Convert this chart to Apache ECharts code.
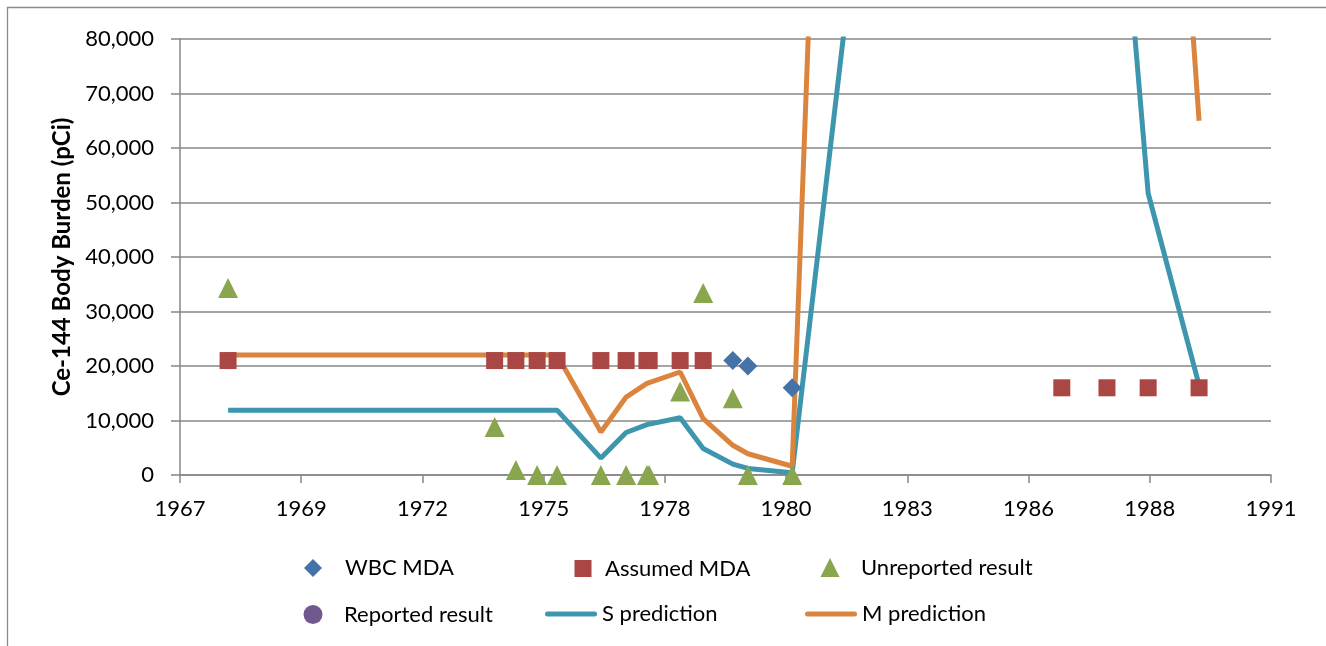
<!DOCTYPE html>
<html>
<head>
<meta charset="utf-8">
<script src="https://cdn.jsdelivr.net/npm/echarts@6/dist/echarts.min.js"></script>
<style>
html,body{margin:0;padding:0;background:#fff;}
#chart{width:1326px;height:646px;}
</style>
</head>
<body>
<div id="chart"></div>
<script>
// ---- Data (x values are decimal years) ----
const tickLabels = ['1967','1969','1972','1975','1978','1980','1983','1986','1988','1991'];

const wbcYears  = [1979.56, 1979.90, 1980.90];
const wbcValues = [21000, 20000, 16000];

const assumedYears  = [1968.16, 1974.18, 1974.66, 1975.14, 1975.59, 1976.58, 1977.15, 1977.62, 1977.67, 1978.37, 1978.89, 1986.99, 1988.01, 1988.94, 1990.09];
const assumedValues = [21000, 21000, 21000, 21000, 21000, 21000, 21000, 21000, 21000, 21000, 21000, 16000, 16000, 16000, 16000];

const unrepYears  = [1968.16, 1974.18, 1974.66, 1975.14, 1975.59, 1976.58, 1977.15, 1977.62, 1977.67, 1978.37, 1978.89, 1979.56, 1979.90, 1980.90];
const unrepValues = [34300, 8800, 900, 0, 0, 0, 0, 0, 0, 15300, 33400, 14100, 0, 0];

const reportedYears  = [];
const reportedValues = [];

const predYears = [1968.16, 1974.18, 1974.66, 1975.14, 1975.59, 1976.58, 1977.15, 1977.62, 1978.37, 1978.89, 1979.56, 1979.90, 1980.90, 1986.99, 1988.01, 1988.94, 1990.09];
const sPred = [11900, 11900, 11900, 11900, 11900, 3100, 7800, 9250, 10500, 4850, 2000, 1200, 400, 421800, 141000, 51700, 16500];
const mPred = [22000, 22000, 22000, 22000, 22000, 7900, 14300, 16800, 18900, 10350, 5450, 3900, 1600, 1324600, 550000, 199000, 65000];

// ---- Axis setup: x measured in days from the axis start (28 Jan 1967), ticks every 1000 days ----
const AXIS_START = 1967.074;
const DAYS_PER_YEAR = 365.25;
const toX = y => (y - AXIS_START) * DAYS_PER_YEAR;
const pairs = (xs, ys) => xs.map((x, i) => [toX(x), ys[i]]);

const FONT = 'Lato, "Open Sans", sans-serif';
const GRID_COLOR = '#878787';

const colors = {
  wbc: '#4572A7', assumed: '#AA4643', unrep: '#89A54E',
  reported: '#71588F', s: '#3D96AE', m: '#DB843D'
};

const ICON = {
  diamond: 'path://M0,-1L1,0L0,1L-1,0Z',
  square: 'path://M0,0H1V1H0Z',
  triangle: 'path://M0,-1L1,1H-1Z',
  circle: 'path://M-1,0A1,1,0,1,0,1,0A1,1,0,1,0,-1,0Z',
  line: 'path://M2.5,0H49.5A2.5,2.5,0,0,1,49.5,5H2.5A2.5,2.5,0,0,1,2.5,0Z'
};

function legendItem(name, icon, left, top, w, h) {
  return {
    data: [{ name: name, icon: icon }], left: left, top: top, padding: 0,
    itemWidth: w, itemHeight: h, itemGap: 0,
    selectedMode: false,
    textStyle: { fontFamily: FONT, fontSize: 22, color: '#000' }
  };
}

const chart = echarts.init(document.getElementById('chart'), null, { renderer: 'canvas' });

chart.setOption({
  animation: false,
  backgroundColor: '#fff',
  grid: { left: 180, right: 55, top: 39, bottom: 171 },
  graphic: [{
    type: 'rect', silent: true,
    shape: { x: 7.5, y: 7.5, width: 1500, height: 800 },
    style: { fill: 'none', stroke: '#8a8a8a', lineWidth: 1.3 }
  }],
  legend: [
    legendItem('WBC MDA', ICON.diamond, 304, 557, 54, 18),
    legendItem('Assumed MDA', ICON.square, 574.5, 557.5, 34, 17),
    legendItem('Unreported result', ICON.triangle, 820.5, 556.5, 52, 19),
    legendItem('Reported result', ICON.circle, 303.5, 603.5, 52, 19),
    legendItem('S prediction', ICON.line, 545, 603, 52, 20),
    legendItem('M prediction', ICON.line, 805, 603, 52, 20)
  ],
  xAxis: {
    type: 'value', min: 0, max: 9000, interval: 1000,
    axisLine: { show: true, onZero: false, lineStyle: { color: GRID_COLOR, width: 1.5 } },
    axisTick: { show: true, inside: false, length: 8, lineStyle: { color: GRID_COLOR, width: 1.5 } },
    splitLine: { show: false },
    axisLabel: {
      margin: 23, fontFamily: FONT, fontSize: 22, color: '#000',
      formatter: (v) => tickLabels[Math.round(v / 1000)] || ''
    }
  },
  yAxis: {
    type: 'value', min: 0, max: 80000, interval: 10000,
    name: 'Ce-144 Body Burden (pCi)', nameLocation: 'middle', nameRotate: 90, nameGap: 106,
    nameTextStyle: { fontFamily: FONT, fontSize: 24, fontWeight: 'bold', color: '#000' },
    axisLine: { show: true, lineStyle: { color: GRID_COLOR, width: 1.5 } },
    axisTick: { show: true, length: 9, lineStyle: { color: GRID_COLOR, width: 1.5 } },
    splitLine: { show: true, lineStyle: { color: GRID_COLOR, width: 1.5 } },
    axisLabel: {
      margin: 26, fontFamily: FONT, fontSize: 22, color: '#000',
      formatter: (v) => v.toLocaleString('en-US')
    }
  },
  series: [
    { name: 'S prediction', type: 'line', data: pairs(predYears, sPred), symbol: 'none',
      lineStyle: { color: colors.s, width: 5 }, itemStyle: { color: colors.s }, z: 2, clip: true },
    { name: 'M prediction', type: 'line', data: pairs(predYears, mPred), symbol: 'none',
      lineStyle: { color: colors.m, width: 5 }, itemStyle: { color: colors.m }, z: 2, clip: true },
    { name: 'WBC MDA', type: 'scatter', data: pairs(wbcYears, wbcValues), symbol: 'diamond', symbolSize: 19,
      itemStyle: { color: colors.wbc, opacity: 1 }, z: 5 },
    { name: 'Assumed MDA', type: 'scatter', data: pairs(assumedYears, assumedValues), symbol: 'rect', symbolSize: 17,
      itemStyle: { color: colors.assumed, opacity: 1 }, z: 5 },
    { name: 'Unreported result', type: 'scatter', data: pairs(unrepYears, unrepValues), symbol: 'triangle', symbolSize: 20,
      itemStyle: { color: colors.unrep, opacity: 1 }, z: 5 },
    { name: 'Reported result', type: 'scatter', data: pairs(reportedYears, reportedValues), symbol: 'circle', symbolSize: 18,
      itemStyle: { color: colors.reported, opacity: 1 }, z: 5 }
  ]
});
</script>
</body>
</html>
